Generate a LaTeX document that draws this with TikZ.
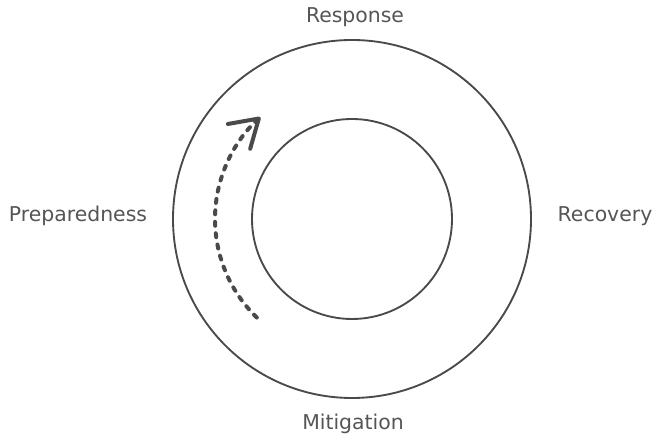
\documentclass[tikz,border=0pt]{standalone}
\usepackage{fontspec}
\setmainfont{DejaVu Sans}
\usepackage{xcolor}
\usetikzlibrary{arrows.meta, calc}
\definecolor{ringgray}{HTML}{4A4A4A}
\definecolor{labelgray}{HTML}{555555}

\begin{document}
\begin{tikzpicture}[
  x=0.75pt, y=0.75pt,
  ring/.style={circle, draw=ringgray, line width=1.4pt, inner sep=0pt},
  phase/.style={text=labelgray, font=\fontsize{15.3}{18}\selectfont},
  flow/.style={ringgray, line width=3pt, line cap=round,
               dash pattern=on 3pt off 5.6pt,
               -{Straight Barb[length=20pt, width=25pt, round]}}
]
  \useasboundingbox (0,0) rectangle (656,438);
  \coordinate (c) at (352,219);

  \node[ring, minimum size=268.5pt] (outer) at (c) {};
  \node[ring, minimum size=150pt]   (inner) at (c) {};

  \node[phase] (resp)  at (355,421) {Response};
  \node[phase] (recov) at (605,222) {Recovery};
  \node[phase] (mitig) at (353,14)  {Mitigation};
  \node[phase] (prep)  at (78,222)  {Preparedness};

  % dashed cycle arrow inside the ring
  \coordinate (flowstart) at ($(c)+(226:137)$);
  \draw[flow] (flowstart) arc[start angle=226, end angle=132, radius=137];
\end{tikzpicture}
\end{document}
